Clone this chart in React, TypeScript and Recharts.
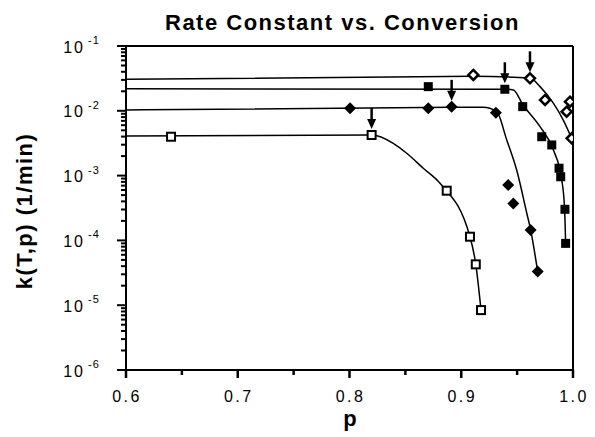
import React from "react"
import { ComposedChart, Line, Scatter, XAxis, YAxis, ReferenceLine } from "recharts"

// measured rate constants k (1/min) against conversion p
const openSquareP = [0.6403, 0.8198, 0.887, 0.9078, 0.913, 0.9177]
const openSquareK = [0.00398, 0.00423, 0.000585, 0.000114, 0.0000427, 0.0000084]

const filledDiamondP = [0.8005, 0.8705, 0.8914, 0.931, 0.942, 0.9466, 0.9621, 0.9684]
const filledDiamondK = [0.0109, 0.0109, 0.0115, 0.0093, 0.000716, 0.00037, 0.000145, 0.000033]

const filledSquareP = [0.8705, 0.939, 0.955, 0.972, 0.981, 0.9875, 0.989, 0.9928, 0.9934]
const filledSquareK = [0.0236, 0.0215, 0.0116, 0.00398, 0.00297, 0.0013, 0.00096, 0.000302, 0.00009]

const openDiamondP = [0.9108, 0.9615, 0.975, 0.9973, 0.9943, 0.9988]
const openDiamondK = [0.0357, 0.0317, 0.0147, 0.0138, 0.0097, 0.00376]

// fitted curves
const openSquareFitP = [0.6, 0.8198, 0.8392, 0.8512, 0.866, 0.881, 0.9078, 0.913, 0.9177]
const openSquareFitK = [0.0041, 0.00423, 0.00315, 0.00221, 0.0013, 0.00076, 0.000114, 0.0000427, 0.0000084]

const filledDiamondFitP = [0.6, 0.8914, 0.9195, 0.9317, 0.9407, 0.9496, 0.9586, 0.9621, 0.9684]
const filledDiamondFitK = [0.0103, 0.0113, 0.0113, 0.0097, 0.00355, 0.00122, 0.000265, 0.000145, 0.000033]

const filledSquareFitP = [0.6, 0.939, 0.9467, 0.955, 0.9705, 0.9824, 0.99, 0.9925, 0.9934]
const filledSquareFitK = [0.0218, 0.0215, 0.021, 0.0125, 0.0057, 0.0025, 0.00085, 0.0003, 0.00009]

const openDiamondFitP = [0.6, 0.9108, 0.9615, 0.9705, 0.9824, 0.9913, 0.9988]
const openDiamondFitK = [0.0306, 0.034, 0.032, 0.0236, 0.0131, 0.0072, 0.00376]

// points marked with a downward arrow
const arrowP = [0.8198, 0.8914, 0.939, 0.9615]
const arrowK = [0.00423, 0.0115, 0.0215, 0.0317]

const xTicks = [0.6, 0.65, 0.7, 0.75, 0.8, 0.85, 0.9, 0.95, 1.0]
const yDecades = [1e-6, 1e-5, 1e-4, 1e-3, 1e-2, 1e-1]

const zip = (p: number[], k: number[]) => p.map((v, i) => ({ p: v, k: k[i] }))

const yMinor: number[] = []
yDecades.slice(0, -1).forEach((d) => {
  for (let m = 2; m <= 9; m++) yMinor.push(d * m)
})
const isMajorX = (v: number) => Math.abs(v * 10 - Math.round(v * 10)) < 1e-6

const FONT = "'Liberation Sans', Arial, Helvetica, sans-serif"

const OpenSquare = ({ cx, cy }: any) => (
  <rect x={cx - 4} y={cy - 4} width={8} height={8} fill="#fff" stroke="#000" strokeWidth={2} />
)
const FilledSquare = ({ cx, cy }: any) => (
  <rect x={cx - 4.5} y={cy - 4.5} width={9} height={9} fill="#000" />
)
const FilledDiamond = ({ cx, cy }: any) => (
  <polygon points={`${cx},${cy - 6} ${cx + 6},${cy} ${cx},${cy + 6} ${cx - 6},${cy}`} fill="#000" />
)
const OpenDiamond = ({ cx, cy }: any) => (
  <polygon
    points={`${cx},${cy - 5} ${cx + 5},${cy} ${cx},${cy + 5} ${cx - 5},${cy}`}
    fill="#fff"
    stroke="#000"
    strokeWidth={2.5}
  />
)
const Arrow = ({ cx, cy }: any) => (
  <g>
    <rect x={cx - 1.25} y={cy - 27} width={2.5} height={13} fill="#000" />
    <polygon points={`${cx - 4.5},${cy - 16} ${cx + 4.5},${cy - 16} ${cx},${cy - 6}`} fill="#000" />
  </g>
)

// short outward marks placed with the reference-line geometry
const yMark = (len: number) => (props: any) => {
  const left = Math.min(props.x1, props.x2)
  return <line x1={left - len} y1={props.y1} x2={left} y2={props.y1} stroke="#000" strokeWidth={2} />
}
const xMark = (len: number) => (props: any) => {
  const bottom = Math.max(props.y1, props.y2)
  return <line x1={props.x1} y1={bottom} x2={props.x1} y2={bottom + len} stroke="#000" strokeWidth={2.5} />
}

const XTick = ({ x, y, payload }: any) => {
  const v = payload.value as number
  if (!isMajorX(v)) return <g />
  return (
    <text x={x + 1} y={y + 32} textAnchor="middle" fontSize={16} letterSpacing={2.5} fontFamily={FONT} fill="#000">
      {v.toFixed(1)}
    </text>
  )
}

// decade labels written as 10 with a superscript exponent
const YTick = ({ x, y, payload }: any) => {
  const v = payload.value as number
  const exp = Math.round(Math.log10(v))
  return (
    <g fontFamily={FONT} fill="#000">
      <text x={x - 41} y={y + 6.5} textAnchor="end" fontSize={16} letterSpacing={2}>
        10
      </text>
      <text x={x - 38} y={y - 2} fontSize={11} letterSpacing={1}>
        {String(exp)}
      </text>
    </g>
  )
}

export default function App() {
  const W = 595
  const H = 437
  return (
    <div style={{ position: "absolute", left: 0, top: 0, width: W, height: H, background: "#fff" }}>
      <ComposedChart width={W} height={H} margin={{ top: 46, right: 22, left: 0, bottom: 0 }}>
        <XAxis
          dataKey="p"
          type="number"
          domain={[0.6, 1.0]}
          ticks={xTicks}
          allowDataOverflow
          height={67}
          tickSize={0}
          tickMargin={0}
          tickLine={false}
          tick={<XTick />}
          interval={0}
          axisLine={{ stroke: "#000", strokeWidth: 2 }}
        />
        <YAxis
          dataKey="k"
          type="number"
          scale="log"
          domain={[1e-6, 1e-1]}
          ticks={yDecades}
          allowDataOverflow
          width={126}
          tickSize={0}
          tickMargin={0}
          tickLine={false}
          tick={<YTick />}
          interval={0}
          axisLine={{ stroke: "#000", strokeWidth: 2 }}
        />
        <ReferenceLine y={1e-1} stroke="#000" strokeWidth={2} ifOverflow="visible" />
        <ReferenceLine x={1.0} stroke="#000" strokeWidth={2} ifOverflow="visible" />
        {yDecades.map((v) => (
          <ReferenceLine key={`yM${v}`} y={v} ifOverflow="visible" shape={yMark(9)} />
        ))}
        {yMinor.map((v) => (
          <ReferenceLine key={`ym${v}`} y={v} ifOverflow="visible" shape={yMark(5)} />
        ))}
        {xTicks.map((v) => (
          <ReferenceLine key={`x${v}`} x={v} ifOverflow="visible" shape={xMark(isMajorX(v) ? 8 : 5)} />
        ))}

        <Line data={zip(openSquareFitP, openSquareFitK)} dataKey="k" type="monotone" stroke="#000" strokeWidth={1.5} dot={false} isAnimationActive={false} />
        <Line data={zip(filledDiamondFitP, filledDiamondFitK)} dataKey="k" type="monotone" stroke="#000" strokeWidth={1.5} dot={false} isAnimationActive={false} />
        <Line data={zip(filledSquareFitP, filledSquareFitK)} dataKey="k" type="monotone" stroke="#000" strokeWidth={1.5} dot={false} isAnimationActive={false} />
        <Line data={zip(openDiamondFitP, openDiamondFitK)} dataKey="k" type="monotone" stroke="#000" strokeWidth={1.5} dot={false} isAnimationActive={false} />

        <Scatter data={zip(openSquareP, openSquareK)} dataKey="k" shape={OpenSquare} isAnimationActive={false} />
        <Scatter data={zip(filledDiamondP, filledDiamondK)} dataKey="k" shape={FilledDiamond} isAnimationActive={false} />
        <Scatter data={zip(filledSquareP, filledSquareK)} dataKey="k" shape={FilledSquare} isAnimationActive={false} />
        <Scatter data={zip(openDiamondP, openDiamondK)} dataKey="k" shape={OpenDiamond} isAnimationActive={false} />
        <Scatter data={zip(arrowP, arrowK)} dataKey="k" shape={Arrow} isAnimationActive={false} />
      </ComposedChart>
      <svg width={W} height={H} style={{ position: "absolute", left: 0, top: 0, pointerEvents: "none" }}>
        <g fontFamily={FONT} fontWeight="bold" fill="#000">
          <text x={165} y={30} fontSize={22} letterSpacing={1.5}>
            Rate Constant vs. Conversion
          </text>
          <text x={350} y={426} fontSize={22} textAnchor="middle">
            p
          </text>
          <text transform="translate(32,211) rotate(-90)" fontSize={22} letterSpacing={1.5} textAnchor="middle">
            k(T,p) (1/min)
          </text>
        </g>
      </svg>
    </div>
  )
}
